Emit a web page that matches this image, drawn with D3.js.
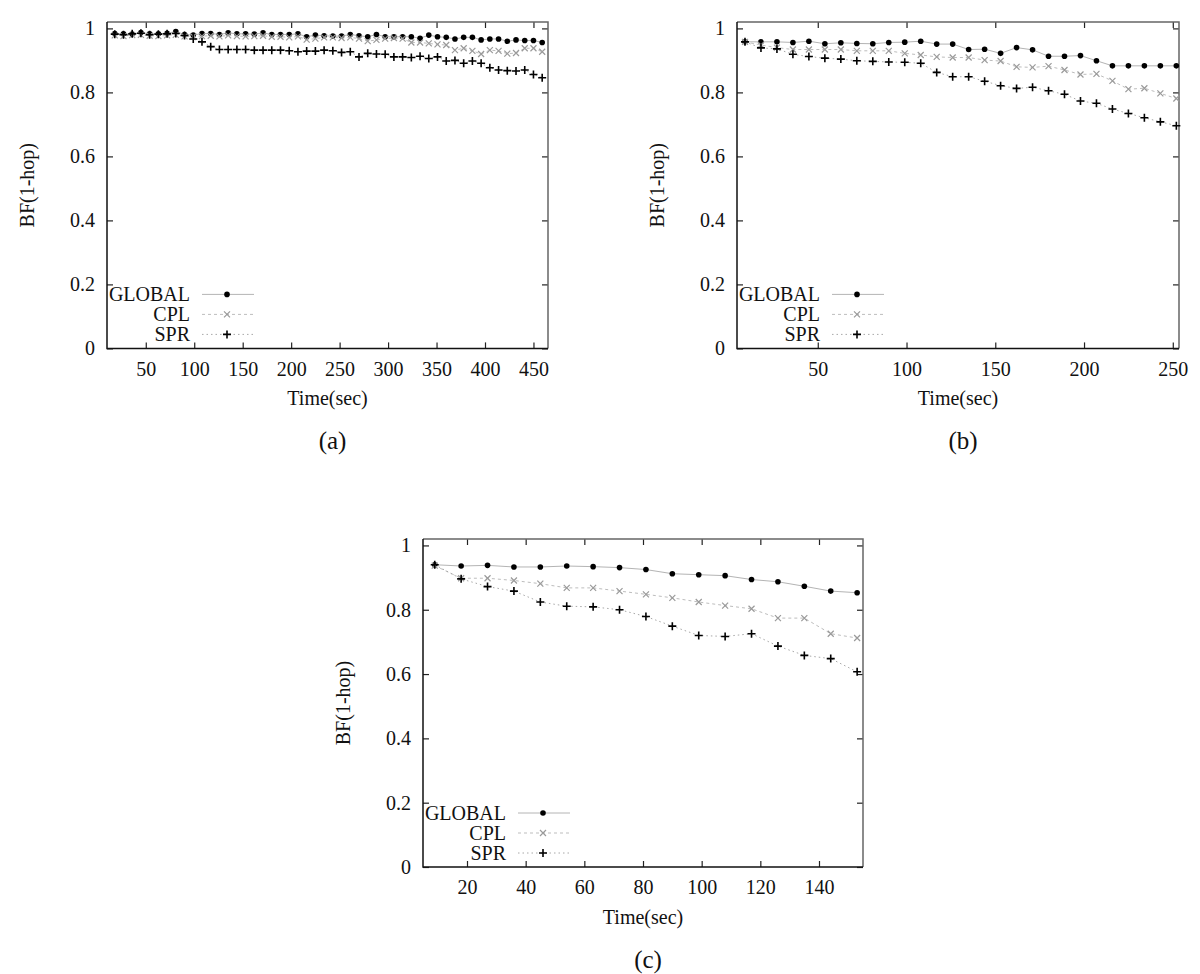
<!DOCTYPE html>
<html>
<head>
<meta charset="utf-8">
<script src="https://cdn.jsdelivr.net/npm/d3@7"></script>
<style>
  body { margin: 0; background: #fff; }
  svg { display: block; font-family: "Liberation Serif", "Times New Roman", serif; }
</style>
</head>
<body>
<div id="chart"></div>
<script>
// Values (time in sec, BF(1-hop) per protocol).
const timesA = [18, 27, 36, 45, 54, 63, 72, 81, 90, 99, 108, 117, 126, 135, 144, 153, 162, 171, 180, 189,
  198, 207, 216, 225, 234, 243, 252, 261, 270, 279, 288, 297, 306, 315, 324, 333, 342, 351, 360, 369,
  378, 387, 396, 405, 414, 423, 432, 441, 450, 459];
const globalA = [0.984, 0.983, 0.982, 0.987, 0.983, 0.983, 0.985, 0.990, 0.981, 0.979, 0.984, 0.984, 0.981, 0.986,
  0.983, 0.983, 0.982, 0.986, 0.981, 0.981, 0.981, 0.983, 0.974, 0.979, 0.977, 0.976, 0.976, 0.981, 0.977, 0.974,
  0.981, 0.974, 0.974, 0.974, 0.974, 0.969, 0.979, 0.974, 0.972, 0.967, 0.972, 0.972, 0.964, 0.967, 0.967, 0.960,
  0.964, 0.962, 0.962, 0.956];
const cplA = [0.978, 0.976, 0.979, 0.980, 0.977, 0.976, 0.978, 0.980, 0.975, 0.975, 0.976, 0.977, 0.975, 0.978,
  0.976, 0.975, 0.976, 0.977, 0.974, 0.974, 0.972, 0.975, 0.965, 0.968, 0.972, 0.972, 0.970, 0.972, 0.968, 0.960,
  0.964, 0.968, 0.970, 0.968, 0.956, 0.956, 0.953, 0.950, 0.948, 0.932, 0.938, 0.930, 0.920, 0.932, 0.930, 0.921,
  0.923, 0.938, 0.938, 0.927];
const sprA = [0.982, 0.980, 0.983, 0.985, 0.980, 0.982, 0.983, 0.984, 0.978, 0.967, 0.958, 0.943, 0.934, 0.934,
  0.934, 0.934, 0.932, 0.932, 0.932, 0.932, 0.930, 0.927, 0.929, 0.929, 0.932, 0.930, 0.925, 0.927, 0.911, 0.922,
  0.920, 0.919, 0.911, 0.911, 0.909, 0.913, 0.906, 0.911, 0.898, 0.900, 0.891, 0.898, 0.891, 0.877, 0.870, 0.868,
  0.867, 0.870, 0.856, 0.846];

const timesB = [9, 18, 27, 36, 45, 54, 63, 72, 81, 90, 99, 108, 117, 126, 135, 144, 153, 162, 171, 180,
  189, 198, 207, 216, 225, 234, 243, 252];
const globalB = [0.958, 0.958, 0.958, 0.956, 0.960, 0.952, 0.955, 0.953, 0.952, 0.956, 0.957, 0.960, 0.951, 0.951,
  0.934, 0.935, 0.922, 0.940, 0.933, 0.913, 0.913, 0.915, 0.899, 0.883, 0.883, 0.883, 0.883, 0.883];
const cplB = [0.958, 0.948, 0.940, 0.934, 0.934, 0.934, 0.934, 0.930, 0.930, 0.930, 0.922, 0.917, 0.911, 0.909,
  0.909, 0.901, 0.898, 0.880, 0.878, 0.882, 0.870, 0.856, 0.858, 0.836, 0.810, 0.813, 0.797, 0.781];
const sprB = [0.958, 0.939, 0.936, 0.919, 0.912, 0.907, 0.904, 0.899, 0.897, 0.895, 0.894, 0.891, 0.8625, 0.849,
  0.849, 0.835, 0.821, 0.8125, 0.816, 0.805, 0.794, 0.773, 0.766, 0.748, 0.734, 0.721, 0.708, 0.696];

const timesC = [9, 18, 27, 36, 45, 54, 63, 72, 81, 90, 99, 108, 117, 126, 135, 144, 153];
const globalC = [0.940, 0.936, 0.938, 0.933, 0.933, 0.936, 0.934, 0.931, 0.925, 0.912, 0.909, 0.906, 0.894,
  0.887, 0.873, 0.858, 0.853];
const cplC = [0.937, 0.898, 0.898, 0.891, 0.881, 0.868, 0.868, 0.858, 0.848, 0.837, 0.824, 0.813, 0.803,
  0.774, 0.774, 0.7255, 0.712];
const sprC = [0.940, 0.896, 0.872, 0.858, 0.824, 0.811, 0.809, 0.800, 0.779, 0.749, 0.720, 0.717, 0.7255,
  0.687, 0.658, 0.648, 0.607];

const seriesNames = ['GLOBAL', 'CPL', 'SPR'];
const yTicks = [0, 0.2, 0.4, 0.6, 0.8, 1];
const xTicksA = [50, 100, 150, 200, 250, 300, 350, 400, 450];
const xTicksB = [50, 100, 150, 200, 250];
const xTicksC = [20, 40, 60, 80, 100, 120, 140];

const width = 1200;
const height = 974;
const fontSize = 20;

const panels = [
    { tag: '(a)', left: 107, top: 22, w: 441, h: 326.4, xDomain: [10, 465], xTicks: xTicksA,
      times: timesA, values: [globalA, cplA, sprA] },
    { tag: '(b)', left: 737, top: 22, w: 442, h: 326.4, xDomain: [4.5, 253.5], xTicks: xTicksB,
      times: timesB, values: [globalB, cplB, sprB] },
    { tag: '(c)', left: 423, top: 539, w: 440, h: 328, xDomain: [5, 155], xTicks: xTicksC,
      times: timesC, values: [globalC, cplC, sprC] }
];

// line look + point type per series, gnuplot-ish
const styles = [
    { line: '#b4b4b4', dash: null, mark: 'dot' },
    { line: '#bdbdbd', dash: '3,3', mark: 'times' },
    { line: '#a8a8a8', dash: '1.5,3', mark: 'plus' }
];

function drawMark(g, type, x, y) {
    if (type === 'dot') {
        g.append('circle').attr('cx', x).attr('cy', y).attr('r', 2.8).attr('fill', '#000');
    } else if (type === 'times') {
        const s = 3;
        g.append('path')
            .attr('d', `M${x - s},${y - s}L${x + s},${y + s}M${x - s},${y + s}L${x + s},${y - s}`)
            .attr('stroke', '#9a9a9a').attr('stroke-width', 1.2).attr('fill', 'none');
    } else {
        const s = 4;
        g.append('path')
            .attr('d', `M${x - s},${y}L${x + s},${y}M${x},${y - s}L${x},${y + s}`)
            .attr('stroke', '#000').attr('stroke-width', 1.6).attr('fill', 'none');
    }
}

const svg = d3.select('#chart')
    .append('svg')
    .attr('width', width)
    .attr('height', height)
    .attr('viewBox', [0, 0, width, height]);

svg.append('rect').attr('width', width).attr('height', height).attr('fill', '#fff');

panels.forEach(p => {
    const g = svg.append('g').attr('transform', `translate(${p.left},${p.top})`);

    const x = d3.scaleLinear().domain(p.xDomain).range([0, p.w]);
    const y = d3.scaleLinear().domain([0, 1.02]).range([p.h, 0]);

    // Axes, ticks pointing inward, mirrored on top/right.
    const xAxis = g.append('g')
        .attr('transform', `translate(0,${p.h})`)
        .call(d3.axisBottom(x).tickValues(p.xTicks).tickSize(-6).tickPadding(13).tickFormat(d3.format('d')));
    const yAxis = g.append('g')
        .call(d3.axisLeft(y).tickValues(yTicks).tickSize(-6).tickPadding(12).tickFormat(d => d === 0 || d === 1 ? d : d.toFixed(1)));
    g.append('g')
        .call(d3.axisTop(x).tickValues(p.xTicks).tickSize(-6).tickFormat(''));
    g.append('g')
        .attr('transform', `translate(${p.w},0)`)
        .call(d3.axisRight(y).tickValues(yTicks).tickSize(-6).tickFormat(''));

    g.selectAll('.domain').remove();
    g.selectAll('.tick line').attr('stroke', '#222').attr('stroke-width', 1.2);
    g.selectAll('.tick text')
        .attr('fill', '#111')
        .style('font-family', '"Liberation Serif", serif')
        .style('font-size', fontSize + 'px');

    // Frame
    g.append('path')
        .attr('d', `M0,0H${p.w}V${p.h}`)
        .attr('fill', 'none').attr('stroke', '#666').attr('stroke-width', 1.5);
    g.append('path')
        .attr('d', `M0,0V${p.h}H${p.w}`)
        .attr('fill', 'none').attr('stroke', '#111').attr('stroke-width', 1.5);

    // Series lines then markers
    p.values.forEach((vals, si) => {
        const st = styles[si];
        const pts = p.times.map((t, i) => [t, vals[i]]);
        g.append('path')
            .datum(pts)
            .attr('fill', 'none')
            .attr('stroke', st.line)
            .attr('stroke-width', 1)
            .attr('stroke-dasharray', st.dash)
            .attr('d', d3.line().x(d => x(d[0])).y(d => y(d[1])));
        const mg = g.append('g');
        pts.forEach(d => drawMark(mg, st.mark, x(d[0]), y(d[1])));
    });

    // Legend, bottom-left inside the frame
    const lg = g.append('g');
    seriesNames.forEach((name, si) => {
        const st = styles[si];
        const ly = p.h - 54 + si * 20;
        lg.append('text')
            .attr('x', 83).attr('y', ly).attr('dy', '0.35em')
            .attr('text-anchor', 'end')
            .attr('font-size', fontSize)
            .attr('fill', '#111')
            .text(name);
        lg.append('line')
            .attr('x1', 95).attr('x2', 147).attr('y1', ly).attr('y2', ly)
            .attr('stroke', st.line).attr('stroke-width', 1)
            .attr('stroke-dasharray', st.dash);
        drawMark(lg, st.mark, 120, ly);
    });

    // Axis titles and panel tag
    g.append('text')
        .attr('transform', `translate(-80,${p.h / 2}) rotate(-90)`)
        .attr('text-anchor', 'middle').attr('dy', '0.35em')
        .attr('font-size', fontSize).attr('fill', '#111')
        .text('BF(1-hop)');
    g.append('text')
        .attr('x', p.w / 2).attr('y', p.h + 50).attr('dy', '0.35em')
        .attr('text-anchor', 'middle')
        .attr('font-size', fontSize).attr('fill', '#111')
        .text('Time(sec)');
    g.append('text')
        .attr('x', p.w / 2 + 5).attr('y', p.h + 92).attr('dy', '0.35em')
        .attr('text-anchor', 'middle')
        .attr('font-size', 25).attr('fill', '#111')
        .text(p.tag);
});
</script>
</body>
</html>
